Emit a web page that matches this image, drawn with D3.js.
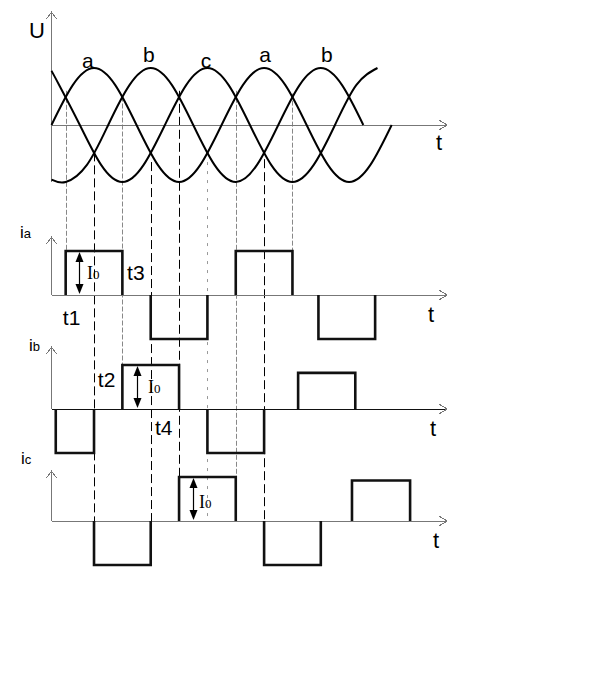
<!DOCTYPE html>
<html>
<head>
  <meta charset="utf-8">
  <title>三相电压与相电流波形</title>
  <script src="https://d3js.org/d3.v7.min.js"></script>
  <style>
    body { margin: 0; background: #fff; }
    svg text { font-family: "Liberation Sans", Arial, sans-serif; fill: #000; }
    .axis { fill: none; stroke: #777; stroke-width: 1; shape-rendering: crispEdges; }
    .wave { fill: none; stroke: #000; stroke-width: 2; }
    .pulse { fill: none; stroke: #111; stroke-width: 2.6; }
    .guide { fill: none; stroke-width: 1; }
  </style>
</head>
<body>
  <div id="chart"></div>
  <script>
    // 相电压：[角度(度), 标幺值]，从原图读出的关键点
    const phaseA = [[0,0],[45,0.7],[90,1],[135,0.7],[180,0],[225,-0.7],[270,-1],[315,-0.7],[360,0],
                    [405,0.7],[450,1],[495,0.7],[540,0],[585,-0.7],[630,-1],[675,-0.7],[720,0]];
    const phaseB = [[0,-0.96],[30,-1],[75,-0.7],[120,0],[165,0.7],[210,1],[255,0.7],[300,0],[345,-0.7],
                    [390,-1],[435,-0.7],[480,0],[525,0.7],[570,1],[615,0.7],[660,0]];
    const phaseC = [[0,0.95],[15,0.72],[60,0],[105,-0.7],[150,-1],[195,-0.7],[240,0],[285,0.7],[330,1],
                    [375,0.7],[420,0],[465,-0.7],[510,-1],[555,-0.7],[600,0],[645,0.7],[690,1]];
    // 曲线名称：[文字, 角度, 高度]
    const phaseLabels = [["a",77,1.0],["b",206,1.1],["c",327,1.0],["a",452,1.1],["b",583,1.1]];

    // 相电流脉冲：[起始角, 结束角, 幅值]
    const pulsesA = [[30,150,1],[210,330,-1],[390,510,1],[565,685,-1]];
    const pulsesB = [[9,90,-1],[150,270,1],[330,450,-1],[522,643,0.82]];
    const pulsesC = [[90,210,-1],[270,390,1],[450,570,-1],[636,759,0.92]];

    // 换相点竖线：[角度, 交点电压, 线型, 终止的通道, 终止处幅值]
    const guides = [
      [30, 0.6, "dot", "ia", 1],
      [90, -0.48, "dash", "ic", 0],
      [150, 0.5, "dot", "ib", 1],
      [210, -0.65, "dash", "ic", 0],
      [270, 0.6, "dash", "ic", 1],
      [330, -0.65, "dashdot", "ic", 0],
      [390, 0.6, "dot", "ic", 1],
      [450, -0.6, "dash", "ic", 0],
      [510, 0.55, "dot", "ia", 0]
    ];

    // 时刻标注：[文字, 通道, 角度, 幅值]
    const timeMarks = [["t1","ia",24,-0.68],["t3","ia",160,0.34],["t2","ib",98,0.5],["t4","ib",219,-0.6]];
    // I0 箭头：[通道, 角度, 文字角度, 文字幅值]
    const i0Marks = [["ia",58,75,0.36],["ib",180.5,204,0.36],["ic",299,312,0.3]];

    // 画布与布局
    const width = 604, height = 676;
    const svg = d3.select("#chart").append("svg")
      .attr("width", width).attr("height", height);

    const x = d3.scaleLinear().domain([0, 835]).range([51.5, 446]);
    const yU = d3.scaleLinear().domain([-1, 1]).range([182, 68]);

    const panels = {
      ia: { zero: 295, top: 237, data: pulsesA, sub: "a", lx: 20, ly: 238, tx: 428, ty: 322 },
      ib: { zero: 409, top: 347, data: pulsesB, sub: "b", lx: 29, ly: 351, tx: 430, ty: 436 },
      ic: { zero: 521, top: 471, data: pulsesC, sub: "c", lx: 21, ly: 464, tx: 433, ty: 548 }
    };
    const pulseH = 44;
    Object.values(panels).forEach(p => {
      p.y = d3.scaleLinear().domain([-1, 1]).range([p.zero + pulseH, p.zero - pulseH]);
    });

    const x0 = x(0), xEnd = x(835) + 1;

    function arrowRight(g, xe, y) {
      g.append("path").attr("class", "axis")
        .attr("d", `M${xe - 8},${y - 5}L${xe},${y}L${xe - 8},${y + 5}`);
    }
    function arrowUp(g, xa, yt) {
      g.append("path").attr("class", "axis")
        .attr("d", `M${xa - 5},${yt + 7}L${xa},${yt}L${xa + 5},${yt + 7}`);
    }

    // 竖直参考线（画在最底层）
    const guideStyle = {
      dash: { stroke: "#000", dash: "9,4" },
      dot: { stroke: "#888", dash: "5,2" },
      dashdot: { stroke: "#999", dash: "3,6" }
    };
    svg.append("g").selectAll("line").data(guides).join("line")
      .attr("class", "guide")
      .attr("x1", d => Math.round(x(d[0])) + 0.5)
      .attr("x2", d => Math.round(x(d[0])) + 0.5)
      .attr("y1", d => yU(d[1]))
      .attr("y2", d => panels[d[3]].y(d[4]))
      .attr("stroke", d => guideStyle[d[2]].stroke)
      .attr("stroke-dasharray", d => guideStyle[d[2]].dash);

    // 电压坐标系
    const uPlot = svg.append("g");
    uPlot.append("line").attr("class", "axis")
      .attr("x1", x0).attr("x2", x0).attr("y1", yU(-1)).attr("y2", 12);
    arrowUp(uPlot, x0, 12);
    uPlot.append("line").attr("class", "axis")
      .attr("x1", x0).attr("x2", xEnd).attr("y1", yU(0)).attr("y2", yU(0));
    arrowRight(uPlot, xEnd, yU(0));
    uPlot.append("text").attr("x", 29).attr("y", 38).attr("font-size", 22).text("U");
    uPlot.append("text").attr("x", 436).attr("y", 150).attr("font-size", 22).text("t");

    const line = d3.line().x(d => x(d[0])).y(d => yU(d[1])).curve(d3.curveNatural);
    uPlot.selectAll("path.wave").data([phaseA, phaseB, phaseC]).join("path")
      .attr("class", "wave").attr("d", line);

    uPlot.selectAll("text.lbl").data(phaseLabels).join("text")
      .attr("class", "lbl")
      .attr("x", d => x(d[1])).attr("y", d => yU(d[2]))
      .attr("text-anchor", "middle").attr("font-size", 21)
      .text(d => d[0]);

    // 三个电流通道
    Object.entries(panels).forEach(([key, p]) => {
      const g = svg.append("g");
      g.append("line").attr("class", "axis")
        .attr("x1", x0).attr("x2", x0).attr("y1", p.zero).attr("y2", p.top);
      arrowUp(g, x0, p.top);
      g.append("line").attr("class", "axis")
        .attr("x1", x0).attr("x2", xEnd).attr("y1", p.zero).attr("y2", p.zero)
        .style("stroke", key === "ib" ? "#111" : null);
      arrowRight(g, xEnd, p.zero);

      const lab = g.append("text").attr("x", p.lx).attr("y", p.ly);
      lab.append("tspan").attr("font-size", 17).text("i");
      lab.append("tspan").attr("font-size", 13).text(p.sub);
      g.append("text").attr("x", p.tx).attr("y", p.ty).attr("font-size", 22).text("t");

      g.selectAll("path.pulse").data(p.data).join("path")
        .attr("class", "pulse")
        .attr("d", d => `M${x(d[0])},${p.zero}V${p.y(d[2])}H${x(d[1])}V${p.zero}`);
    });

    // 时刻标注
    svg.selectAll("text.tm").data(timeMarks).join("text")
      .attr("class", "tm")
      .attr("x", d => x(d[2])).attr("y", d => panels[d[1]].y(d[3]))
      .attr("font-size", 21).text(d => d[0]);

    // I0 双向箭头
    const im = svg.selectAll("g.i0").data(i0Marks).join("g").attr("class", "i0");
    im.each(function(d) {
      const g = d3.select(this), p = panels[d[0]];
      const xa = Math.round(x(d[1])) + 0.5, y1 = p.y(1) + 1, y2 = p.zero - 1;
      g.append("line").attr("x1", xa).attr("x2", xa).attr("y1", y1 + 6).attr("y2", y2 - 6)
        .attr("stroke", "#000").attr("stroke-width", 1.2);
      g.append("path").attr("fill", "#000")
        .attr("d", `M${xa},${y1}L${xa - 4},${y1 + 10}L${xa + 4},${y1 + 10}Z`);
      g.append("path").attr("fill", "#000")
        .attr("d", `M${xa},${y2}L${xa - 4},${y2 - 10}L${xa + 4},${y2 - 10}Z`);
      const t = g.append("text").attr("x", x(d[2])).attr("y", p.y(d[3]))
        .style("font-family", "'Liberation Serif', 'Times New Roman', serif");
      t.append("tspan").attr("font-size", 18).text("I");
      t.append("tspan").attr("font-size", 13).text("0");
    });
  </script>
</body>
</html>
